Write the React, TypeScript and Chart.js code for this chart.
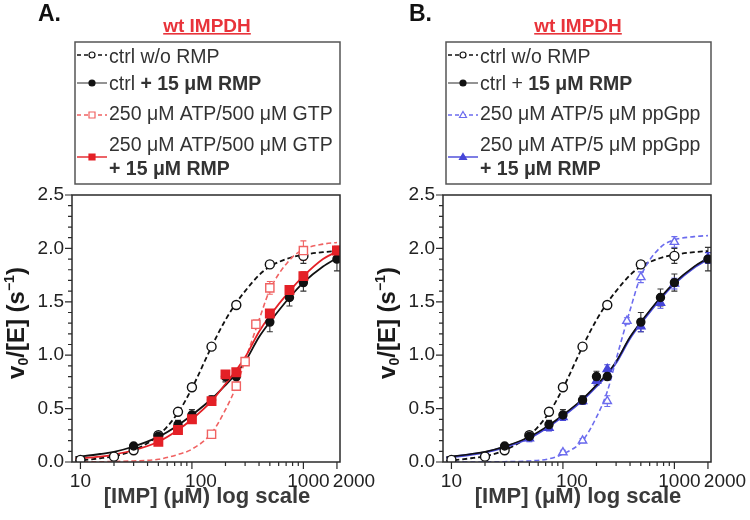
import React, { useEffect, useRef } from "react";
import { Chart, registerables } from "chart.js";

Chart.register(...registerables);

// ---------------- data ----------------
const xTickValues = [10, 100, 1000, 2000];
const xTickLabels = ["10", "100", "1000", "2000"];
const xMinorTicks = [20, 30, 40, 50, 60, 70, 80, 90, 200, 300, 400, 500, 600, 700, 800, 900];
const yTickValues = [0, 0.5, 1, 1.5, 2, 2.5];
const yMinorTicks = [0.1, 0.2, 0.3, 0.4, 0.6, 0.7, 0.8, 0.9, 1.1, 1.2, 1.3, 1.4, 1.6, 1.7, 1.8, 1.9, 2.1, 2.2, 2.3, 2.4];

const curveX = [9, 15, 20, 30, 50, 75, 100, 150, 200, 250, 300, 400, 500, 750, 1000, 1500, 2000];
const ctrlCurve = [0.01, 0.035, 0.055, 0.11, 0.25, 0.46, 0.69, 1.08, 1.33, 1.49, 1.6, 1.75, 1.83, 1.91, 1.94, 1.965, 1.975];
const rmpCurve = [0.045, 0.075, 0.095, 0.145, 0.235, 0.345, 0.44, 0.59, 0.72, 0.83, 0.94, 1.17, 1.31, 1.54, 1.68, 1.83, 1.91];
const gtpCurve = [0.0, 0.002, 0.005, 0.01, 0.025, 0.07, 0.12, 0.27, 0.49, 0.71, 0.95, 1.33, 1.61, 1.89, 1.99, 2.04, 2.055];
const gtpRmpCurve = [0.03, 0.05, 0.07, 0.11, 0.19, 0.3, 0.4, 0.57, 0.73, 0.86, 0.98, 1.22, 1.37, 1.6, 1.74, 1.9, 1.97];
const ppCurve = [0.0, 0.0, 0.001, 0.003, 0.01, 0.03, 0.075, 0.2, 0.42, 0.66, 0.96, 1.42, 1.74, 2.01, 2.08, 2.11, 2.12];
const ppRmpCurve = [0.04, 0.07, 0.09, 0.14, 0.225, 0.335, 0.43, 0.58, 0.71, 0.82, 0.93, 1.16, 1.3, 1.53, 1.67, 1.82, 1.9];

// measured points
const ctrlX = [10, 20, 30, 50, 75, 100, 150, 250, 500, 1000];
const ctrlY = [0.02, 0.05, 0.11, 0.25, 0.47, 0.7, 1.08, 1.47, 1.85, 1.93];
const ctrlErr = [0.01, 0.01, 0.02, 0.03, 0.03, 0.03, 0.02, 0.03, 0.03, 0.07];

const rmpX = [30, 50, 75, 100, 150, 200, 250, 500, 750, 1000, 2000];
const rmpY = [0.15, 0.24, 0.35, 0.44, 0.58, 0.8, 0.8, 1.31, 1.54, 1.68, 1.9];
const rmpErr = [0.02, 0.03, 0.04, 0.05, 0.04, 0.05, 0.03, 0.09, 0.08, 0.08, 0.11];

const gtpX = [150, 250, 300, 375, 500, 1000];
const gtpY = [0.26, 0.71, 0.94, 1.29, 1.63, 1.98];
const gtpErr = [0.02, 0.03, 0.03, 0.04, 0.06, 0.09];

const gtpRmpX = [50, 75, 100, 150, 200, 250, 500, 750, 1000, 2000];
const gtpRmpY = [0.19, 0.3, 0.4, 0.57, 0.82, 0.84, 1.39, 1.61, 1.74, 1.98];
const gtpRmpErr = [0.02, 0.02, 0.03, 0.03, 0.03, 0.03, 0.03, 0.03, 0.04, 0.04];

const ppX = [100, 150, 250, 375, 500, 1000];
const ppY = [0.09, 0.2, 0.57, 1.32, 1.73, 2.06];
const ppErr = [0.02, 0.02, 0.05, 0.03, 0.05, 0.05];

const ppRmpX = [50, 75, 100, 150, 200, 250, 500, 750, 1000, 2000];
const ppRmpY = [0.22, 0.32, 0.42, 0.57, 0.76, 0.87, 1.27, 1.49, 1.67, 1.91];
const ppRmpErr = [0.03, 0.03, 0.03, 0.03, 0.04, 0.04, 0.05, 0.05, 0.05, 0.05];

// ---------------- styles ----------------
const FONT = "'Liberation Sans', Arial, Helvetica, sans-serif";
const INK = "#222";
const TEXT = "#333";
const RED = "#e42026";
const RED_LIGHT = "#f06262";
const BLUE = "#6c6cee";
const BLUE_SOLID = "#4646d8";
const TITLE_RED = "#e8333a";
const xLabelShift = [0, 9, 5, 17];
const LEGEND_SIZE = 19.5;

type Run = { t: string; b?: boolean };
type LegendItem = {
  lines: Run[][];
  lineColor: string;
  markColor: string;
  dash: number[];
  marker: "circle" | "rect" | "triangle";
  filled: boolean;
};
type PanelSpec = { letter: string; title: string; legend: LegendItem[]; datasets: any[] };

const pts = (xs: number[], ys: number[]) => xs.map((x, i) => ({ x, y: ys[i] }));

function curve(ys: number[], color: string, dash: number[], width: number, order: number) {
  return {
    data: pts(curveX, ys),
    borderColor: color,
    borderWidth: width,
    borderDash: dash,
    pointRadius: 0,
    cubicInterpolationMode: "monotone",
    fill: false,
    order,
  };
}

function points(
  xs: number[], ys: number[], errs: number[], style: string, radius: number,
  bg: string, border: string, errColor: string, order: number
) {
  return {
    data: pts(xs, ys),
    showLine: false,
    pointStyle: style,
    pointRadius: radius,
    pointBackgroundColor: bg,
    pointBorderColor: border,
    pointBorderWidth: 1.4,
    errors: errs,
    errColor,
    order,
  };
}

const legendA: LegendItem[] = [
  { lines: [[{ t: "ctrl w/o RMP" }]], lineColor: "#111", markColor: "#111", dash: [4, 3], marker: "circle", filled: false },
  { lines: [[{ t: "ctrl " }, { t: "+ 15 \u03bcM RMP", b: true }]], lineColor: "#666", markColor: "#111", dash: [], marker: "circle", filled: true },
  { lines: [[{ t: "250 \u03bcM ATP/500 \u03bcM GTP" }]], lineColor: RED_LIGHT, markColor: RED_LIGHT, dash: [4, 3], marker: "rect", filled: false },
  {
    lines: [[{ t: "250 \u03bcM ATP/500 \u03bcM GTP" }], [{ t: "+ 15 \u03bcM RMP", b: true }]],
    lineColor: RED, markColor: RED, dash: [], marker: "rect", filled: true,
  },
];

const legendB: LegendItem[] = [
  { lines: [[{ t: "ctrl w/o RMP" }]], lineColor: "#111", markColor: "#111", dash: [4, 3], marker: "circle", filled: false },
  { lines: [[{ t: "ctrl + " }, { t: "15 \u03bcM RMP", b: true }]], lineColor: "#666", markColor: "#111", dash: [], marker: "circle", filled: true },
  { lines: [[{ t: "250 \u03bcM ATP/5 \u03bcM ppGpp" }]], lineColor: BLUE, markColor: BLUE, dash: [4, 3], marker: "triangle", filled: false },
  {
    lines: [[{ t: "250 \u03bcM ATP/5 \u03bcM ppGpp" }], [{ t: "+ 15 \u03bcM RMP", b: true }]],
    lineColor: BLUE_SOLID, markColor: BLUE_SOLID, dash: [], marker: "triangle", filled: true,
  },
];

const panelA: PanelSpec = {
  letter: "A.",
  title: "wt IMPDH",
  legend: legendA,
  datasets: [
    points(gtpRmpX, gtpRmpY, gtpRmpErr, "rect", 6, RED, RED, RED, 1),
    points(rmpX, rmpY, rmpErr, "circle", 4, "#111", "#111", "#333", 2),
    points(gtpX, gtpY, gtpErr, "rect", 5.8, "#fff", RED_LIGHT, RED_LIGHT, 3),
    points(ctrlX, ctrlY, ctrlErr, "circle", 4.5, "#fff", "#111", "#333", 4),
    curve(gtpRmpCurve, RED, [], 1.8, 10),
    curve(gtpCurve, RED_LIGHT, [5, 3], 1.6, 11),
    curve(rmpCurve, "#111", [], 1.8, 12),
    curve(ctrlCurve, "#111", [5, 3], 1.8, 13),
  ],
};

const panelB: PanelSpec = {
  letter: "B.",
  title: "wt IMPDH",
  legend: legendB,
  datasets: [
    points(ppX, ppY, ppErr, "triangle", 4.8, "#fff", BLUE, BLUE, 1),
    points(rmpX, rmpY, rmpErr, "circle", 4, "#111", "#111", "#333", 2),
    points(ppRmpX, ppRmpY, ppRmpErr, "triangle", 4.8, BLUE_SOLID, BLUE_SOLID, BLUE_SOLID, 3),
    points(ctrlX, ctrlY, ctrlErr, "circle", 4.5, "#fff", "#111", "#333", 4),
    curve(ppCurve, BLUE, [5, 3], 1.6, 10),
    curve(rmpCurve, "#111", [], 1.6, 11),
    curve(ppRmpCurve, BLUE_SOLID, [], 2.4, 12),
    curve(ctrlCurve, "#111", [5, 3], 1.8, 13),
  ],
};

// ---------------- drawing helpers ----------------
function drawRuns(ctx: CanvasRenderingContext2D, runs: Run[], x: number, y: number, size: number) {
  let cx = x;
  for (const r of runs) {
    ctx.font = `${r.b ? "bold " : ""}${size}px ${FONT}`;
    ctx.fillText(r.t, cx, y);
    cx += ctx.measureText(r.t).width;
  }
}

function drawMarker(ctx: CanvasRenderingContext2D, item: LegendItem, x: number, y: number) {
  ctx.beginPath();
  if (item.marker === "circle") {
    ctx.arc(x, y, 3, 0, Math.PI * 2);
  } else if (item.marker === "rect") {
    ctx.rect(x - 3, y - 3, 6, 6);
  } else {
    ctx.moveTo(x, y - 3.5);
    ctx.lineTo(x + 3.5, y + 2.5);
    ctx.lineTo(x - 3.5, y + 2.5);
    ctx.closePath();
  }
  ctx.fillStyle = item.filled ? item.markColor : "#fff";
  ctx.fill();
  ctx.lineWidth = 1.2;
  ctx.setLineDash([]);
  ctx.strokeStyle = item.markColor;
  ctx.stroke();
}

const legendBox = { left: 75, top: 42, right: 340, bottom: 184 };
const legendSampleY = [55, 83, 115, 157];
const legendBaselines = [[62.5], [89.5], [120], [150.5, 175]];

function makeDecor(p: PanelSpec) {
  return {
    id: "decor",
    beforeDatasetsDraw(chart: any) {
      const ctx: CanvasRenderingContext2D = chart.ctx;
      const ys = chart.scales.y;
      chart.data.datasets.forEach((ds: any, i: number) => {
        if (!ds.errors) return;
        const meta = chart.getDatasetMeta(i);
        ctx.save();
        ctx.strokeStyle = ds.errColor;
        ctx.lineWidth = 1.1;
        meta.data.forEach((el: any, j: number) => {
          const v = ds.data[j].y;
          const e = ds.errors[j];
          const x = el.x;
          const y1 = ys.getPixelForValue(v + e);
          const y2 = ys.getPixelForValue(v - e);
          ctx.beginPath();
          ctx.moveTo(x, y1);
          ctx.lineTo(x, y2);
          ctx.moveTo(x - 3, y1);
          ctx.lineTo(x + 3, y1);
          ctx.moveTo(x - 3, y2);
          ctx.lineTo(x + 3, y2);
          ctx.stroke();
        });
        ctx.restore();
      });
    },
    afterDraw(chart: any) {
      const ctx: CanvasRenderingContext2D = chart.ctx;
      const { left, right, top, bottom } = chart.chartArea;
      const xs = chart.scales.x;
      const ys = chart.scales.y;
      ctx.save();

      // frame
      ctx.strokeStyle = "#2a2a2a";
      ctx.lineWidth = 1.5;
      ctx.strokeRect(left, top, right - left, bottom - top);

      // ticks
      ctx.lineWidth = 1.2;
      ctx.beginPath();
      for (const v of yTickValues) {
        const py = ys.getPixelForValue(v);
        ctx.moveTo(left, py);
        ctx.lineTo(left - 7, py);
      }
      for (const v of yMinorTicks) {
        const py = ys.getPixelForValue(v);
        ctx.moveTo(left, py);
        ctx.lineTo(left - 4, py);
      }
      for (const v of xTickValues) {
        const px = xs.getPixelForValue(v);
        ctx.moveTo(px, bottom);
        ctx.lineTo(px, bottom + 7);
      }
      for (const v of xMinorTicks) {
        const px = xs.getPixelForValue(v);
        ctx.moveTo(px, bottom);
        ctx.lineTo(px, bottom + 4);
      }
      ctx.stroke();

      // x tick labels
      ctx.fillStyle = INK;
      ctx.font = `19px ${FONT}`;
      ctx.textAlign = "center";
      ctx.textBaseline = "middle";
      xTickValues.forEach((v, i) => {
        ctx.fillText(xTickLabels[i], xs.getPixelForValue(v) + xLabelShift[i], bottom + 20);
      });
      ctx.textBaseline = "alphabetic";

      // panel letter
      ctx.fillStyle = "#111";
      ctx.textAlign = "left";
      ctx.font = `bold 23px ${FONT}`;
      ctx.fillText(p.letter, 38, 21);

      // title (underlined)
      ctx.font = `bold 19px ${FONT}`;
      ctx.fillStyle = TITLE_RED;
      ctx.textAlign = "center";
      const cx = 207;
      ctx.fillText(p.title, cx, 31.5);
      const tw = ctx.measureText(p.title).width;
      ctx.fillRect(cx - tw / 2, 33, tw, 1.6);

      // legend box
      ctx.strokeStyle = "#555";
      ctx.lineWidth = 1.5;
      ctx.setLineDash([]);
      ctx.strokeRect(legendBox.left, legendBox.top, legendBox.right - legendBox.left, legendBox.bottom - legendBox.top);
      ctx.textAlign = "left";
      p.legend.forEach((item, i) => {
        const sy = legendSampleY[i];
        ctx.beginPath();
        ctx.setLineDash(item.dash);
        ctx.strokeStyle = item.lineColor;
        ctx.lineWidth = 1.4;
        ctx.moveTo(77, sy);
        ctx.lineTo(107, sy);
        ctx.stroke();
        drawMarker(ctx, item, 92, sy);
        ctx.fillStyle = TEXT;
        item.lines.forEach((line, k) => drawRuns(ctx, line, 109, legendBaselines[i][k], LEGEND_SIZE));
      });
      ctx.setLineDash([]);

      // x axis title
      ctx.fillStyle = "#3a3a3a";
      ctx.textAlign = "center";
      ctx.font = `bold 22px ${FONT}`;
      ctx.fillText("[IMP] (\u03bcM) log scale", (left + right) / 2 + 1, 503);

      // y axis title with sub/superscript
      ctx.save();
      ctx.translate(16, 323);
      ctx.rotate(-Math.PI / 2);
      ctx.fillStyle = "#1a1a1a";
      const big = `bold 24px ${FONT}`;
      const small = `bold 14px ${FONT}`;
      const parts: { t: string; f: string; dy: number }[] = [
        { t: "v", f: big, dy: 0 },
        { t: "0", f: small, dy: 4 },
        { t: "/[E] (s", f: big, dy: 0 },
        { t: "\u22121", f: small, dy: -10 },
        { t: ")", f: big, dy: 0 },
      ];
      let total = 0;
      for (const pt of parts) {
        ctx.font = pt.f;
        total += ctx.measureText(pt.t).width;
      }
      let px = -total / 2;
      ctx.textAlign = "left";
      for (const pt of parts) {
        ctx.font = pt.f;
        ctx.fillText(pt.t, px, 8 + pt.dy);
        px += ctx.measureText(pt.t).width;
      }
      ctx.restore();

      ctx.restore();
    },
  };
}

function buildConfig(p: PanelSpec): any {
  return {
    type: "line",
    data: { datasets: p.datasets },
    options: {
      animation: false,
      responsive: false,
      maintainAspectRatio: false,
      events: [],
      layout: { padding: { left: 0, top: 195, right: 35, bottom: 0 } },
      plugins: { legend: { display: false }, tooltip: { enabled: false }, title: { display: false } },
      scales: {
        x: {
          type: "logarithmic",
          min: 8.4,
          max: 2130,
          afterFit: (s: any) => {
            s.height = 58;
          },
          afterBuildTicks: (s: any) => {
            s.ticks = xTickValues.map((v) => ({ value: v }));
          },
          ticks: { display: false },
          grid: { display: false, drawTicks: false },
          border: { display: false },
        },
        y: {
          type: "linear",
          min: 0,
          max: 2.5,
          afterFit: (s: any) => {
            s.width = 72;
          },
          ticks: {
            stepSize: 0.5,
            padding: 8,
            color: INK,
            font: { family: FONT, size: 19 },
            callback: (v: any) => Number(v).toFixed(1),
          },
          grid: { display: false, drawTicks: false },
          border: { display: false },
        },
      },
    },
    plugins: [makeDecor(p)],
  };
}

function Panel({ spec, left }: { spec: PanelSpec; left: number }) {
  const ref = useRef<HTMLCanvasElement>(null);
  useEffect(() => {
    if (!ref.current) return;
    const chart = new Chart(ref.current, buildConfig(spec));
    return () => chart.destroy();
  }, [spec]);
  return (
    <canvas
      ref={ref}
      width={375}
      height={520}
      style={{ position: "absolute", left, top: 0, width: 375, height: 520 }}
    />
  );
}

export default function App() {
  return (
    <div style={{ position: "fixed", left: 0, top: 0, width: 750, height: 520, background: "#fff", overflow: "hidden" }}>
      <Panel spec={panelA} left={0} />
      <Panel spec={panelB} left={371} />
    </div>
  );
}
